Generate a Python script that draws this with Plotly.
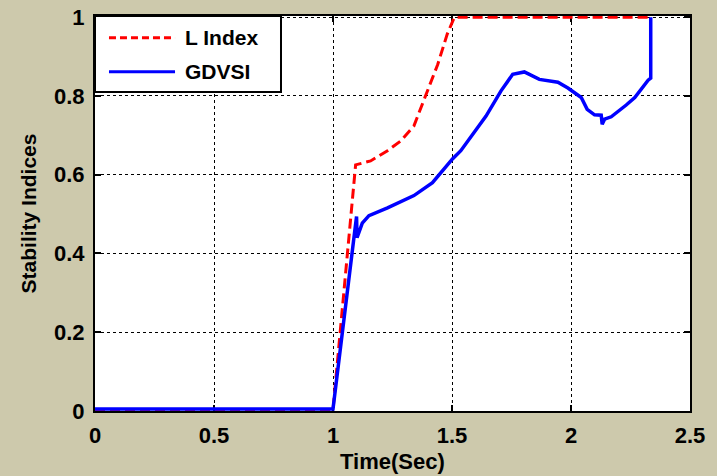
import plotly.graph_objects as go

# L Index (red dashed)
l_time = [0.0, 1.0, 1.095, 1.158, 1.229, 1.285, 1.34, 1.39, 1.44, 1.48, 1.51, 2.33]
l_vals = [0.003, 0.003, 0.625, 0.635, 0.661, 0.686, 0.724, 0.80, 0.88, 0.957, 1.0, 1.0]

# GDVSI (blue solid)
g_time = [0.0, 1.0, 1.09, 1.099, 1.101, 1.123, 1.151, 1.229, 1.34, 1.418, 1.502, 1.537,
          1.643, 1.706, 1.755, 1.804, 1.867, 1.945, 1.987, 2.043, 2.068, 2.099, 2.127,
          2.131, 2.141, 2.169, 2.232, 2.268, 2.324, 2.335, 2.335]
g_vals = [0.005, 0.005, 0.45, 0.494, 0.44, 0.477, 0.496, 0.516, 0.547, 0.58, 0.64, 0.661,
          0.749, 0.813, 0.855, 0.861, 0.842, 0.835, 0.82, 0.796, 0.766, 0.752, 0.751,
          0.728, 0.741, 0.747, 0.777, 0.796, 0.84, 0.845, 1.0]

x_ticks = [0, 0.5, 1, 1.5, 2, 2.5]
x_tick_text = ["0", "0.5", "1", "1.5", "2", "2.5"]
y_ticks = [0, 0.2, 0.4, 0.6, 0.8, 1]
y_tick_text = ["0", "0.2", "0.4", "0.6", "0.8", "1"]

series_names = ["L Index", "GDVSI"]
series_colors = ["#ff0000", "#0000ff"]

BG = "#cdc9ac"
FONT = "Liberation Sans, Arial, sans-serif"

fig = go.Figure()
fig.add_trace(go.Scatter(x=l_time, y=l_vals, mode="lines", name=series_names[0],
                         line=dict(color=series_colors[0], width=3, dash="10px,5px")))
fig.add_trace(go.Scatter(x=g_time, y=g_vals, mode="lines", name=series_names[1],
                         line=dict(color=series_colors[1], width=3.5)))

axis_common = dict(
    showline=True, linecolor="black", linewidth=2, mirror="ticks",
    ticks="inside", ticklen=6, tickwidth=2, tickcolor="black",
    showgrid=True, gridcolor="black", gridwidth=1, griddash="dot",
    zeroline=False, layer="below traces", automargin=False,
    tickfont=dict(family=FONT, size=22, color="black", weight="bold"),
)

fig.update_xaxes(range=[0, 2.5], tickvals=x_ticks, ticktext=["<b>%s</b>" % t for t in x_tick_text],
                 ticklabelstandoff=4, **axis_common)
fig.update_yaxes(range=[0, 1.003], tickvals=y_ticks, ticktext=["<b>%s</b>" % t for t in y_tick_text],
                 ticklabelstandoff=4, **axis_common)

# axis titles
fig.add_annotation(xref="paper", yref="paper", x=0.5, y=-0.129, text="<b>Time(Sec)</b>",
                   showarrow=False, xanchor="center", yanchor="middle",
                   font=dict(family=FONT, size=22, color="black"))
fig.add_annotation(xref="paper", yref="paper", x=-0.111, y=0.5, text="<b>Stability Indices</b>",
                   showarrow=False, xanchor="center", yanchor="middle", textangle=-90,
                   font=dict(family=FONT, size=21, color="black"))

# manual legend box
fig.add_shape(type="rect", xref="x domain", yref="y domain", x0=0, x1=0.3126, y0=0.8076, y1=1,
              line=dict(color="black", width=2), fillcolor="white", layer="above")
legend_y = [0.945, 0.859]
dashes = ["7px,4px", "solid"]
for name, col, ly, dsh in zip(series_names, series_colors, legend_y, dashes):
    fig.add_shape(type="line", xref="x domain", yref="y domain", x0=0.0235, x1=0.1345,
                  y0=ly, y1=ly, line=dict(color=col, width=3, dash=dsh), layer="above")
    fig.add_annotation(xref="x domain", yref="y domain", x=0.148, y=ly, text="<b>%s</b>" % name,
                       showarrow=False, xanchor="left", yanchor="middle",
                       font=dict(family=FONT, size=21, color="black"))

fig.update_layout(
    width=717, height=476,
    margin=dict(l=95, r=27, t=16, b=65),
    paper_bgcolor=BG, plot_bgcolor="white",
    showlegend=False,
)

fig.write_html("out.html")
